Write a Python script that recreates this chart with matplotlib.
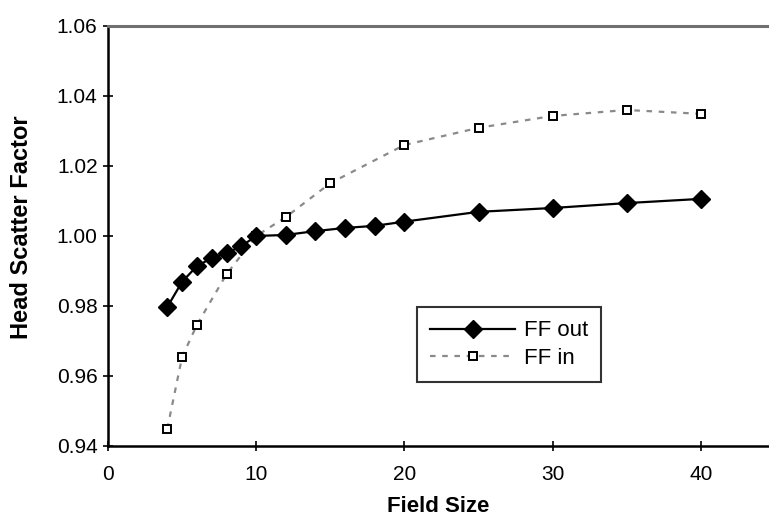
import matplotlib
matplotlib.use("Agg")
import matplotlib.pyplot as plt

plt.rcParams['font.family'] = ['Liberation Sans', 'DejaVu Sans']

# field size (cm) and head scatter factors
size_out = [4, 5, 6, 7, 8, 9, 10, 12, 14, 16, 18, 20, 25, 30, 35, 40]
ff_out = [0.9797, 0.9869, 0.9914, 0.9937, 0.9951, 0.9971, 1.0000, 1.0003,
          1.0014, 1.0023, 1.0029, 1.0041, 1.0069, 1.0080, 1.0094, 1.0106]

size_in = [4, 5, 6, 8, 10, 12, 15, 20, 25, 30, 35, 40]
ff_in = [0.9449, 0.9654, 0.9746, 0.9891, 1.0000, 1.0054, 1.0151,
         1.0260, 1.0309, 1.0343, 1.0360, 1.0349]

x_ticks = [0, 10, 20, 30, 40]
y_ticks = [0.94, 0.96, 0.98, 1.00, 1.02, 1.04, 1.06]

fig = plt.figure(figsize=(7.69, 5.25), dpi=100)
ax = fig.add_axes([0.1404, 0.1505, 0.8596, 0.80])

ax.plot(size_out, ff_out, color='black', lw=1.6, marker='D', ms=9,
        mfc='black', mec='black', label='FF out', zorder=3)
ax.plot(size_in, ff_in, color='#8a8a8a', lw=1.6, ls=(0, (2.5, 3)),
        marker='s', ms=6, mfc='white', mec='black', mew=1.4,
        label='FF in', zorder=2)

ax.set_xlim(0, 44.6)
ax.set_ylim(0.94, 1.06)
ax.set_xticks(x_ticks)
ax.set_yticks(y_ticks)
ax.set_yticklabels([f"{v:.2f}" for v in y_ticks])
ax.tick_params(direction='inout', length=7, width=1.2, labelsize=15,
               colors='black')
ax.tick_params(axis='y', pad=4)
ax.tick_params(axis='x', pad=10)

for side in ['left', 'bottom']:
    ax.spines[side].set_linewidth(1.8)
ax.spines['top'].set_color('#707070')
ax.spines['top'].set_linewidth(2.2)
ax.spines['right'].set_visible(False)

ax.set_xlabel('Field Size', fontsize=16, fontweight='bold', labelpad=9)
ax.set_ylabel('Head Scatter Factor', fontsize=17, fontweight='bold')
ax.yaxis.set_label_coords(-0.113, 0.52)

leg = ax.legend(loc='upper left', bbox_to_anchor=(0.4675, 0.331), fontsize=16,
                frameon=True, fancybox=False, edgecolor='black',
                handlelength=3.8, handletextpad=0.4, borderpad=0.6,
                labelspacing=0.3, borderaxespad=0)
leg.get_frame().set_linewidth(1.5)

fig.savefig('out.png', dpi=100)
